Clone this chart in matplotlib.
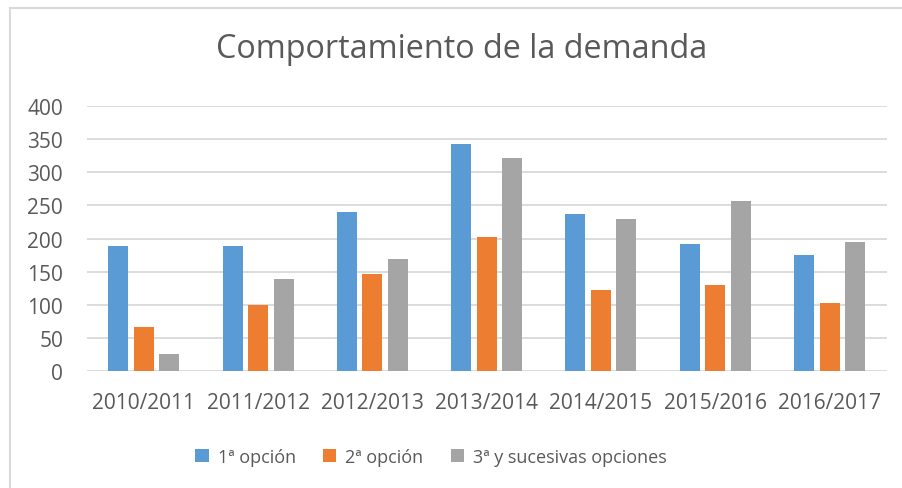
import matplotlib.pyplot as plt
import numpy as np
from matplotlib.lines import Line2D

plt.rcParams['font.family'] = ['Open Sans', 'DejaVu Sans']

years = ['2010/2011', '2011/2012', '2012/2013', '2013/2014',
         '2014/2015', '2015/2016', '2016/2017']
opcion1 = [189, 188, 240, 342, 237, 192, 175]
opcion2 = [66, 100, 146, 203, 122, 130, 102]
opcion3 = [26, 139, 169, 322, 229, 257, 195]
labels = ['1ª opción', '2ª opción', '3ª y sucesivas opciones']
colors = ['#5B9BD5', '#ED7D31', '#A5A5A5']
txt = '#595959'

fig = plt.figure(figsize=(9.03, 4.89), dpi=100)
ax = fig.add_axes([86.7/903, 1 - 372/489, 800/903, 265/489])

x = np.arange(len(years))
w = 0.175
step = 0.223
for i, (vals, c, lab) in enumerate(zip([opcion1, opcion2, opcion3], colors, labels)):
    ax.bar(x + (i - 1) * step, vals, width=w, color=c, label=lab, zorder=3)

ax.set_xlim(-0.5, len(years) - 0.5)
ax.set_ylim(0, 400)
ax.set_yticks(range(0, 401, 50))
ax.set_xticks(x)
ax.set_xticklabels(years)
ax.grid(axis='y', color='#D9D9D9', linewidth=1.3, zorder=0)
for s in ax.spines.values():
    s.set_visible(False)
ax.tick_params(length=0, labelsize=15, colors=txt)
ax.tick_params(axis='y', pad=17)
ax.tick_params(axis='x', pad=15)

fig.text(462/903, 1 - 50/489, 'Comportamiento de la demanda', ha='center', va='center',
         fontsize=23.3, color=txt)

fig.legend(loc='center', bbox_to_anchor=(431/903, 1 - 458/489), ncol=3, frameon=False,
           fontsize=13, labelcolor=txt, handlelength=0.75, handleheight=0.75,
           columnspacing=1.5, handletextpad=0.5)

# chart area border (top and left visible)
fig.add_artist(Line2D([10/903, 10/903], [0, 1 - 9/489], transform=fig.transFigure,
                      color='#D9D9D9', linewidth=1.5))
fig.add_artist(Line2D([10/903, 1], [1 - 9/489, 1 - 9/489], transform=fig.transFigure,
                      color='#D9D9D9', linewidth=1.5))

fig.savefig('out.png', dpi=100, facecolor='white')
